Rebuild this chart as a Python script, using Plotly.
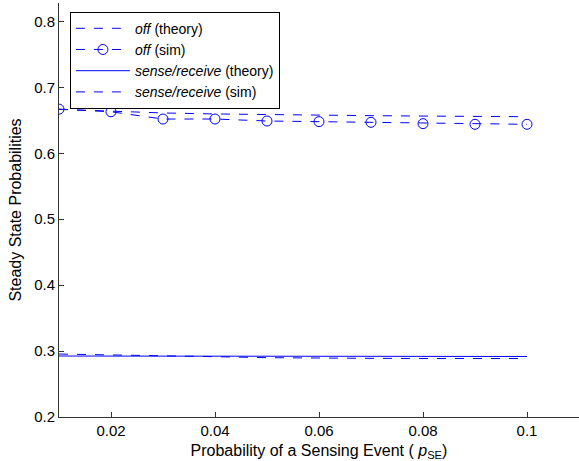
import plotly.graph_objects as go

p_se = [0.01, 0.02, 0.03, 0.04, 0.05, 0.06, 0.07, 0.08, 0.09, 0.10]
off_theory = [0.6667, 0.6635, 0.6612, 0.6597, 0.6586, 0.6578, 0.6571, 0.6565, 0.6560, 0.6555]
off_sim = [0.667, 0.663, 0.652, 0.652, 0.649, 0.648, 0.647, 0.645, 0.644, 0.644]
sense_theory = [0.2925, 0.2924, 0.2923, 0.2922, 0.2921, 0.2920, 0.2920, 0.2919, 0.2919, 0.2918]
sense_sim = [0.2955, 0.2945, 0.2930, 0.2915, 0.2900, 0.2890, 0.2890, 0.2888, 0.2888, 0.2887]

x_ticks = [0.02, 0.04, 0.06, 0.08, 0.1]
x_ticklabels = ["0.02", "0.04", "0.06", "0.08", "0.1"]
y_ticks = [0.2, 0.3, 0.4, 0.5, 0.6, 0.7, 0.8]
y_ticklabels = ["0.2", "0.3", "0.4", "0.5", "0.6", "0.7", "0.8"]

BLUE = "rgb(0,0,255)"
FONT = "Liberation Sans, Arial, Helvetica, sans-serif"

fig = go.Figure()
fig.add_trace(go.Scatter(x=p_se, y=off_theory, mode="lines",
                         line=dict(color=BLUE, width=1, dash="dash"),
                         name="<i>off</i> (theory)"))
fig.add_trace(go.Scatter(x=p_se, y=off_sim, mode="lines+markers",
                         line=dict(color=BLUE, width=1, dash="dash"),
                         marker=dict(symbol="circle-open", size=10, color=BLUE, line=dict(width=1, color=BLUE)),
                         name="<i>off</i> (sim)"))
fig.add_trace(go.Scatter(x=p_se, y=sense_theory, mode="lines",
                         line=dict(color=BLUE, width=1),
                         name="<i>sense/receive</i> (theory)"))
fig.add_trace(go.Scatter(x=p_se, y=sense_sim, mode="lines",
                         line=dict(color=BLUE, width=1, dash="dash"),
                         name="<i>sense/receive</i> (sim)"))

fig.update_layout(
    width=579, height=461,
    margin=dict(l=59, r=0, t=3, b=44),
    paper_bgcolor="white", plot_bgcolor="white",
    font=dict(family=FONT, size=15, color="black"),
    showlegend=True,
    legend=dict(x=0.021, y=0.979, xanchor="left", yanchor="top",
                bgcolor="white", bordercolor="black", borderwidth=1,
                font=dict(family=FONT, size=14, color="black"),
                tracegroupgap=0, itemwidth=54),
    xaxis=dict(range=[0.01, 0.11], tickvals=x_ticks, ticktext=x_ticklabels,
               ticks="inside", ticklen=5, tickcolor="#333", showgrid=False, zeroline=False,
               showline=True, linecolor="#333", linewidth=1, mirror=False,
               tickfont=dict(size=15),
               title=dict(text="Probability of a Sensing Event ( <i>p</i><sub>SE</sub>)",
                          font=dict(size=16), standoff=6)),
    yaxis=dict(range=[0.2, 0.828], tickvals=y_ticks, ticktext=y_ticklabels,
               ticks="inside", ticklen=5, tickcolor="#333", showgrid=False, zeroline=False,
               showline=True, linecolor="#333", linewidth=1, mirror=False,
               tickfont=dict(size=15),
               title=dict(text="Steady State Probabilities", font=dict(size=16), standoff=8)),
)

fig.write_html("out.html", config={"displayModeBar": False},
               post_script="document.body.style.margin='0';document.body.style.overflow='hidden';")
